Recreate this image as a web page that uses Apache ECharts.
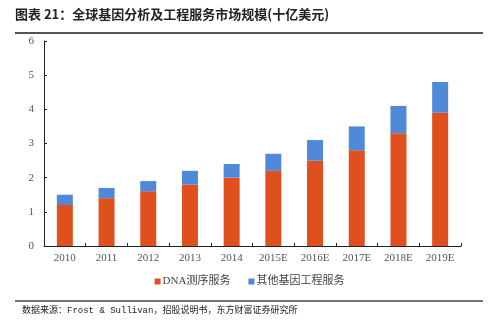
<!DOCTYPE html>
<html><head><meta charset="utf-8">
<script src="https://cdn.jsdelivr.net/npm/echarts@6/dist/echarts.min.js"></script>
<style>html,body{margin:0;padding:0;background:#fff}#c{width:499px;height:330px}</style>
</head><body><div id="c"></div>
<script>
const categories = ['2010','2011','2012','2013','2014','2015E','2016E','2017E','2018E','2019E'];
const dnaSeq = [1.2,1.4,1.6,1.8,2.0,2.2,2.5,2.8,3.3,3.9];
const otherGene = [0.3,0.3,0.3,0.4,0.4,0.5,0.6,0.7,0.8,0.9];
const seriesNames = ['DNA测序服务','其他基因工程服务'];
const yTicks = [0,1,2,3,4,5,6];
const titleText = '图表 21：全球基因分析及工程服务市场规模(十亿美元)';
const sourceText = '数据来源：Frost & Sullivan，招股说明书，东方财富证券研究所';

const chart = echarts.init(document.getElementById('c'), null, {renderer:'canvas'});
const serif = '"Liberation Serif","Times New Roman","Noto Sans CJK SC",serif';
chart.setOption({
  animation:false,
  backgroundColor:'#fff',
  graphic:[
    {type:'text',left:15,top:8,style:{text:titleText,font:'bold 13px "Noto Sans CJK SC", sans-serif',fill:'#222'}},
    {type:'line',shape:{x1:15,y1:33,x2:483,y2:33},style:{stroke:'#555',lineWidth:2}},
    {type:'line',shape:{x1:15,y1:301,x2:483,y2:301},style:{stroke:'#444',lineWidth:1.5}},
    {type:'text',left:22,top:306,style:{text:sourceText,font:'9px "Liberation Mono","Noto Sans CJK SC", monospace',fill:'#222'}}
  ],
  legend:{
    bottom:38,left:'center',itemWidth:6,itemHeight:6,itemGap:18,icon:'rect',
    textStyle:{fontFamily:'"Liberation Serif","Noto Sans CJK SC", serif',fontSize:11,color:'#444',padding:[0,0,0,-3]},
    data:seriesNames
  },
  grid:{left:44,right:38,top:41,bottom:84},
  xAxis:{
    type:'category',data:categories,
    axisLine:{lineStyle:{color:'#222',width:1}},
    axisTick:{show:true,inside:true,length:3,lineStyle:{color:'#222'}},
    axisLabel:{fontFamily:serif,fontSize:11,color:'#555',margin:7}
  },
  yAxis:{
    type:'value',min:yTicks[0],max:yTicks[yTicks.length-1],interval:1,
    axisLine:{show:true,lineStyle:{color:'#222',width:1}},
    axisTick:{show:true,inside:true,length:3,lineStyle:{color:'#222'}},
    splitLine:{show:false},
    axisLabel:{fontFamily:serif,fontSize:11,color:'#555',margin:10}
  },
  series:[
    {name:seriesNames[0],type:'bar',stack:'a',data:dnaSeq,barWidth:16,itemStyle:{color:'#E0501E'}},
    {name:seriesNames[1],type:'bar',stack:'a',data:otherGene,barWidth:16,itemStyle:{color:'#4F89D8'}}
  ]
});
</script></body></html>
